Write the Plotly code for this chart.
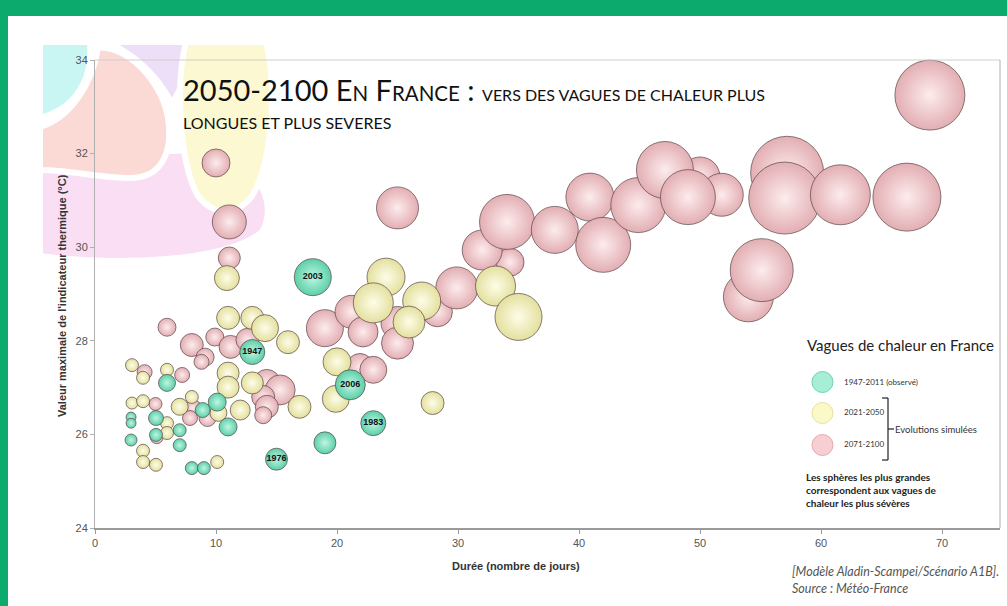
import plotly.graph_objects as go

# ---------------- data ----------------
# 2071-2100 (simulated) : duration (days), max thermal indicator (degC), severity
p_duree = [10.0, 11.1, 11.1, 5.95, 8.0, 9.9, 11.2, 9.1, 8.8, 12.6, 4.1, 7.2,
           14.2, 15.3, 13.9, 14.2, 13.9, 5.0, 8.1, 9.3, 7.85, 5.1,
           19.0, 21.2, 22.15, 25.0, 25.0, 21.9, 23.0, 28.3, 29.9, 34.3, 32.0, 34.05,
           25.0, 38.0, 40.9, 42.0, 44.9, 50.0, 47.1, 51.8, 49.0, 57.2, 57.0, 61.6,
           67.1, 54.0, 55.1, 69.0]
p_temp = [31.80, 30.54, 29.77, 28.29, 27.91, 28.08, 27.87, 27.65, 27.55, 28.02, 27.33, 27.27,
          27.10, 26.95, 26.80, 26.59, 26.41, 26.65, 26.56, 26.35, 26.35, 25.94,
          28.27, 28.62, 28.19, 28.38, 27.95, 27.44, 27.38, 28.62, 29.13, 29.68, 29.94, 30.54,
          30.84, 30.37, 31.07, 30.05, 30.90, 31.50, 31.65, 31.12, 31.07, 31.59, 31.05, 31.12,
          31.07, 28.94, 29.51, 33.25]
p_sev = [28, 34, 22, 18, 23, 18, 23, 18, 15, 23, 15, 15,
         27, 30, 23, 23, 17, 13, 17, 17, 15, 13,
         37, 33, 30, 33, 32, 27, 27, 30, 42, 28, 40, 55,
         42, 47, 48, 55, 55, 40, 57, 43, 55, 73, 72, 60,
         68, 50, 63, 70]

# 2021-2050 (simulated)
j_duree = [10.9, 11.0, 13.0, 14.05, 15.95, 3.06, 3.97, 5.95, 11.0, 11.0, 13.0, 16.9,
           12.0, 3.06, 3.97, 7.0, 8.0, 10.2, 5.95, 5.95, 3.97, 3.97, 5.04, 10.1,
           24.05, 23.0, 27.0, 25.95, 20.0, 19.9, 27.9, 33.1, 35.0]
j_temp = [29.34, 28.49, 28.49, 28.27, 27.97, 27.48, 27.21, 27.38, 27.31, 27.01, 27.10, 26.59,
          26.52, 26.67, 26.71, 26.59, 26.80, 26.46, 26.24, 26.03, 25.65, 25.41, 25.35, 25.41,
          29.36, 28.81, 28.85, 28.40, 27.55, 26.76, 26.67, 29.17, 28.51]
j_sev = [25, 23, 23, 27, 23, 13, 13, 13, 22, 22, 22, 23,
         20, 12, 13, 17, 13, 17, 13, 13, 13, 13, 13, 13,
         38, 40, 38, 32, 28, 27, 23, 40, 47]

# 1947-2011 (observed)
o_duree = [5.95, 10.1, 8.9, 11.0, 5.04, 2.98, 2.98, 2.98, 5.04, 7.0, 7.0, 8.0, 9.0,
           19.0, 15.0, 23.0, 21.1, 13.0, 18.0]
o_temp = [27.10, 26.69, 26.52, 26.16, 26.35, 26.37, 26.24, 25.88, 25.99, 26.09, 25.77, 25.28, 25.28,
          25.82, 25.47, 26.24, 27.06, 27.76, 29.36]
o_sev = [17, 18, 15, 18, 15, 10, 10, 12, 13, 13, 13, 13, 13,
         22, 22, 25, 30, 25, 37]
o_annee = ["", "", "", "", "", "", "", "", "", "", "", "", "",
           "", "1976", "1983", "2006", "1947", "2003"]

x_ticks = [0, 10, 20, 30, 40, 50, 60, 70]
y_ticks = [24, 26, 28, 30, 32, 34]

# ---------------- layout helpers (decoration positions in pixels) ----------------
W, H = 1007, 606
L, R, T, B = 95, 7, 60, 78
PW, PH = W - L - R, H - T - B


def X(px):
    return (px - L) / PW


def Y(py):
    return (H - B - py) / PH


def path(pts_cmds):
    out = []
    for tok in pts_cmds:
        if isinstance(tok, str):
            out.append(tok)
        else:
            out.append(f"{X(tok[0]):.5f},{Y(tok[1]):.5f}")
    return " ".join(out)


fig = go.Figure()


def bubbles(xs, ys, sev, edge, center, name, text=None):
    fig.add_trace(go.Scatter(
        x=xs, y=ys, mode="markers+text" if text else "markers", name=name,
        text=[f"<b>{t}</b>" if t else "" for t in text] if text else None,
        textposition="middle center",
        textfont=dict(family="Liberation Sans", size=9, color="#111"),
        marker=dict(size=sev, sizemode="diameter", sizeref=1, color=edge,
                    gradient=dict(type="radial", color=center),
                    line=dict(color="rgba(90,70,70,0.7)", width=1), opacity=1),
        cliponaxis=False, showlegend=False, hoverinfo="x+y"))


bubbles(p_duree, p_temp, p_sev, "#e2aeb3", "#fdeced", "2071-2100")
bubbles(j_duree, j_temp, j_sev, "#e3e09e", "#fefde8", "2021-2050")
bubbles(o_duree, o_temp, o_sev, "#5ccfa8", "#bff6e4", "1947-2011", o_annee)

shapes = []
# white page on green background
shapes.append(dict(type="rect", xref="paper", yref="paper", x0=X(8), x1=X(1010), y0=Y(612), y1=Y(16),
                   fillcolor="white", line=dict(width=0), layer="below"))
white = dict(color="white", width=6)
# decorative pastel blobs, top-left
shapes.append(dict(type="path", xref="paper", yref="paper", layer="below", fillcolor="#f9def4", line=white,
                   path=path(["M", (40, 155), "L", (200, 150), "C", (262, 160), (278, 205), (262, 232),
                              "C", (225, 262), (120, 266), (40, 256), "Z"])))
shapes.append(dict(type="path", xref="paper", yref="paper", layer="below", fillcolor="#ecdff7", line=white,
                   path=path(["M", (108, 42), "L", (210, 42), "C", (195, 60), (182, 85), (172, 104),
                              "C", (160, 80), (140, 58), (108, 42), "Z"])))
shapes.append(dict(type="path", xref="paper", yref="paper", layer="below", fillcolor="#fbd9d5", line=white,
                   path=path(["M", (98, 48), "C", (125, 44), (162, 80), (168, 118), "C", (173, 152), (162, 178), (130, 178),
                              "C", (100, 178), (70, 170), (40, 170), "L", (40, 127),
                              "C", (70, 118), (92, 85), (98, 48), "Z"])))
shapes.append(dict(type="path", xref="paper", yref="paper", layer="below", fillcolor="#c9f6f3", line=white,
                   path=path(["M", (40, 42), "L", (90, 42), "C", (93, 80), (76, 108), (40, 118), "Z"])))
shapes.append(dict(type="path", xref="paper", yref="paper", layer="below", fillcolor="#fcf8d2", line=white,
                   path=path(["M", (186, 42), "L", (266, 42), "C", (276, 80), (274, 160), (252, 196),
                              "C", (236, 216), (214, 216), (198, 196), "C", (178, 160), (176, 80), (186, 42), "Z"])))
# plot frame (top and right)
shapes.append(dict(type="line", xref="paper", yref="paper", x0=0, x1=1, y0=1, y1=1,
                   line=dict(color="#cfcfcf", width=1)))
shapes.append(dict(type="line", xref="paper", yref="paper", x0=1, x1=1, y0=0, y1=1,
                   line=dict(color="#b0b0b0", width=1)))

# legend symbols
for cy, fc, lc in [(382, "#a6eed6", "#6fd3b1"), (413, "#fbf9c8", "#e6e2a0"), (445, "#f7cfd2", "#e6a9ae")]:
    shapes.append(dict(type="circle", xref="paper", yref="paper", x0=X(812), x1=X(833), y0=Y(cy + 10.5), y1=Y(cy - 10.5),
                       fillcolor=fc, line=dict(color=lc, width=1)))
# bracket
br = dict(color="#222", width=1.2)
shapes.append(dict(type="line", xref="paper", yref="paper", x0=X(888), x1=X(888), y0=Y(398), y1=Y(460), line=br))
shapes.append(dict(type="line", xref="paper", yref="paper", x0=X(882), x1=X(888), y0=Y(398), y1=Y(398), line=br))
shapes.append(dict(type="line", xref="paper", yref="paper", x0=X(882), x1=X(888), y0=Y(460), y1=Y(460), line=br))
shapes.append(dict(type="line", xref="paper", yref="paper", x0=X(888), x1=X(894), y0=Y(429), y1=Y(429), line=br))

ann = []


def text(px, py, s, size, color="#222", family="Lato", xanchor="left", angle=0):
    ann.append(dict(xref="paper", yref="paper", x=X(px), y=Y(py), text=s, showarrow=False,
                    xanchor=xanchor, yanchor="middle", textangle=angle,
                    font=dict(family=family, size=size, color=color)))


big, sc, sm = 29, 20.5, 16
text(181, 89, f"<span style='font-size:{big}px'>2050-2100 E</span><span style='font-size:{sc}px'>N</span>"
              f"<span style='font-size:{big}px'> F</span><span style='font-size:{sc}px'>RANCE</span>"
              f"<span style='font-size:{big}px'> :</span> <span style='font-size:{sm}px'>VERS DES VAGUES DE CHALEUR PLUS</span>",
     big, color="#111")
text(181, 123, "LONGUES ET PLUS SEVERES", sm, color="#111")

text(516, 566, "<b>Durée (nombre de jours)</b>", 11, color="#333", family="Liberation Sans", xanchor="center")
text(62, 296, "<b>Valeur maximale de l'indicateur thermique (°C)</b>", 11, color="#333",
     family="Liberation Sans", xanchor="center", angle=-90)

text(790, 571, "<i>[Modèle Aladin-Scampei/Scénario A1B].</i>", 12.5, color="#555")
text(790, 588, "<i>Source : Météo-France</i>", 12.5, color="#555")

text(805, 345, "Vagues de chaleur en France", 15, color="#222")
text(842, 382, "1947-2011 (observé)", 8, color="#333")
text(842, 412, "2021-2050", 8, color="#333")
text(842, 444, "2071-2100", 8, color="#333")
text(893, 429, "Evolutions simulées", 9.5, color="#333")
text(804, 477, "<b>Les sphères les plus grandes</b>", 10, color="#222")
text(804, 490, "<b>correspondent aux vagues de</b>", 10, color="#222")
text(804, 503, "<b>chaleur les plus sévères</b>", 10, color="#222")

fig.update_layout(
    width=W, height=H, margin=dict(l=L, r=R, t=T, b=B, pad=0),
    paper_bgcolor="#0caa6c", plot_bgcolor="rgba(0,0,0,0)",
    shapes=shapes, annotations=ann, showlegend=False,
    xaxis=dict(range=[0, PW / 12.1], tickvals=x_ticks, ticktext=[str(v) for v in x_ticks],
               showgrid=False, zeroline=False, showline=True, linecolor="#9a9a9a", linewidth=2,
               ticks="outside", ticklen=4, tickcolor="#9a9a9a",
               tickfont=dict(family="Liberation Sans", size=11, color="#555")),
    yaxis=dict(range=[24, 34], tickvals=y_ticks, ticktext=[str(v) for v in y_ticks],
               showgrid=False, zeroline=False, showline=True, linecolor="#b0b0b0", linewidth=1,
               ticks="outside", ticklen=4, tickcolor="#b0b0b0",
               tickfont=dict(family="Liberation Sans", size=11, color="#555")),
)

fig.write_html("out.html", config={"displayModeBar": False},
               post_script="document.body.style.margin='0px';document.body.style.overflow='hidden';")
